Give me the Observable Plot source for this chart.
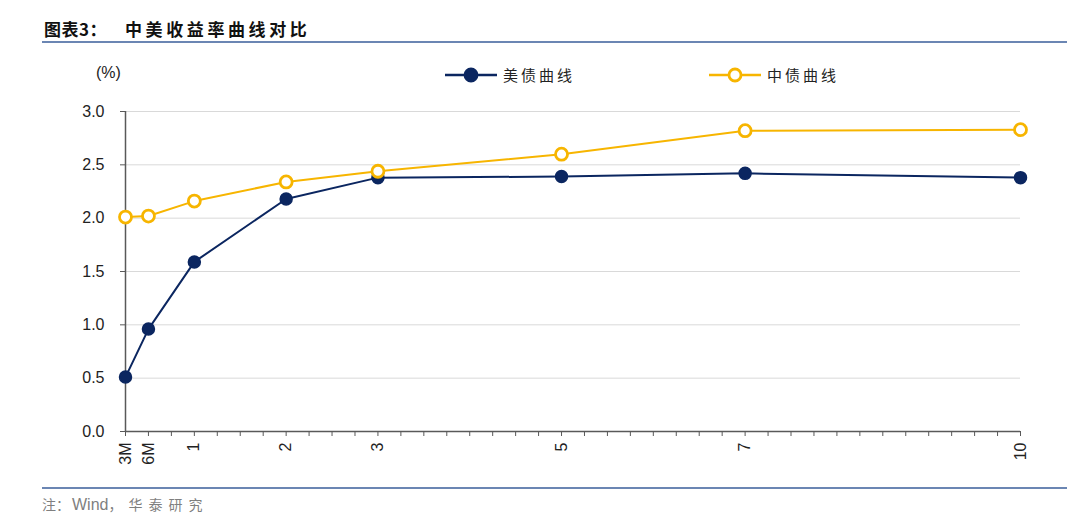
<!DOCTYPE html>
<html>
<head>
<meta charset="utf-8">
<script src="https://cdn.jsdelivr.net/npm/d3@7"></script>
<script src="https://cdn.jsdelivr.net/npm/@observablehq/plot@0.6"></script>
<style>
  html, body { margin: 0; padding: 0; background: #fff; }
  body { width: 1080px; height: 526px; position: relative; overflow: hidden; font-family: "Noto Sans CJK SC", sans-serif; }
  #chart { position: absolute; left: 0; top: 0; z-index: 0; }
  .abs { position: absolute; white-space: nowrap; z-index: 1; }
  .title { top: 16px; font-size: 17px; font-weight: bold; color: #111; }
  .rule { left: 42px; width: 1025px; height: 2px; background: #6b86b3; }
  #footer { left: 42px; top: 493px; font-size: 14px; color: #7f7f7f; line-height: 22px; }
  #footer .en { font-family: "Liberation Sans", Arial, sans-serif; font-size: 16px; margin-left: 2px; }
  #footer .cn { letter-spacing: 6px; margin-left: 6px; }
  #unit { left: 96px; top: 64px; font-size: 16px; color: #222; font-family: "Liberation Sans", Arial, sans-serif; }
  .leg { top: 64px; font-size: 15px; color: #222; letter-spacing: 3px; }
  .legsw { top: 64px; }
</style>
</head>
<body>
<div id="chart"></div>
<div class="abs title" style="left:44px; letter-spacing:0.5px">图表3：</div>
<div class="abs title" style="left:125px; letter-spacing:3.6px">中美收益率曲线对比</div>
<div class="abs rule" style="top:41px"></div>
<div id="unit" class="abs">(%)</div>
<div id="legend"></div>
<div class="abs rule" style="top:487px"></div>
<div id="footer" class="abs">注：<span class="en">Wind</span>，<span class="cn">华泰研究</span></div>
<script>
// ---- data ----
const tenorLabels = ["3M", "6M", "1", "2", "3", "5", "7", "10"];
const tenorYears = [0.25, 0.5, 1, 2, 3, 5, 7, 10];
const usYield = [0.51, 0.96, 1.59, 2.18, 2.38, 2.39, 2.42, 2.38];
const cnYield = [2.01, 2.02, 2.16, 2.34, 2.44, 2.60, 2.82, 2.83];
const seriesNames = ["美债曲线", "中债曲线"];
const yTicks = [0, 0.5, 1.0, 1.5, 2.0, 2.5, 3.0];

const navy = "#0b2660";
const gold = "#f7b500";

const usData = tenorYears.map((x, i) => ({x, y: usYield[i], label: tenorLabels[i]}));
const cnData = tenorYears.map((x, i) => ({x, y: cnYield[i], label: tenorLabels[i]}));
const minorTicks = d3.range(1, 41).map(k => k * 0.25);
const labelOf = new Map(tenorYears.map((y, i) => [y, tenorLabels[i]]));

const chart = Plot.plot({
  width: 1080,
  height: 526,
  marginLeft: 125,
  marginRight: 60,
  marginTop: 111,
  marginBottom: 95,
  x: {type: "linear", domain: [0.25, 10]},
  y: {domain: [0, 3]},
  style: {fontFamily: "'Liberation Sans', Arial, sans-serif", fontSize: "16px", color: "#222", background: "transparent"},
  marks: [
    Plot.gridY(yTicks.filter(d => d > 0), {stroke: "#d9d9d9", strokeOpacity: 1, strokeWidth: 1}),
    Plot.ruleX([0.25], {y1: 0, y2: 3, stroke: "#595959", strokeWidth: 1.5}),
    Plot.ruleY([0], {stroke: "#595959", strokeWidth: 1.5}),
    Plot.axisY({ticks: yTicks, tickFormat: d3.format(".1f"), tickSize: 5, tickPadding: 16, stroke: "#595959", label: null, fontSize: 16}),
    Plot.axisX({ticks: minorTicks, tickFormat: d => labelOf.get(d) ?? "", tickSize: 5, tickPadding: 6, tickRotate: -90, stroke: "#595959", label: null, fontSize: 16}),
    Plot.line(usData, {x: "x", y: "y", stroke: navy, strokeWidth: 2}),
    Plot.dot(usData, {x: "x", y: "y", r: 6, fill: navy, stroke: navy}),
    Plot.line(cnData, {x: "x", y: "y", stroke: gold, strokeWidth: 2}),
    Plot.dot(cnData, {x: "x", y: "y", r: 6, fill: "white", stroke: gold, strokeWidth: 2.8})
  ]
});
document.getElementById("chart").appendChild(chart);

// ---- legend ----
const legend = document.getElementById("legend");
const legItems = [
  {name: seriesNames[0], color: navy, fill: navy, left: 445},
  {name: seriesNames[1], color: gold, fill: "white", left: 709}
];
for (const it of legItems) {
  const sw = document.createElementNS("http://www.w3.org/2000/svg", "svg");
  sw.setAttribute("width", 52); sw.setAttribute("height", 22);
  sw.setAttribute("class", "abs legsw");
  sw.style.left = it.left + "px";
  sw.innerHTML = `<line x1="0" x2="52" y1="11" y2="11" stroke="${it.color}" stroke-width="2.5"/>` +
    `<circle cx="26" cy="11" r="6" fill="${it.fill}" stroke="${it.color}" stroke-width="2.8"/>`;
  legend.appendChild(sw);
  const t = document.createElement("div");
  t.className = "abs leg";
  t.style.left = (it.left + 58) + "px";
  t.textContent = it.name;
  legend.appendChild(t);
}
</script>
</body>
</html>
